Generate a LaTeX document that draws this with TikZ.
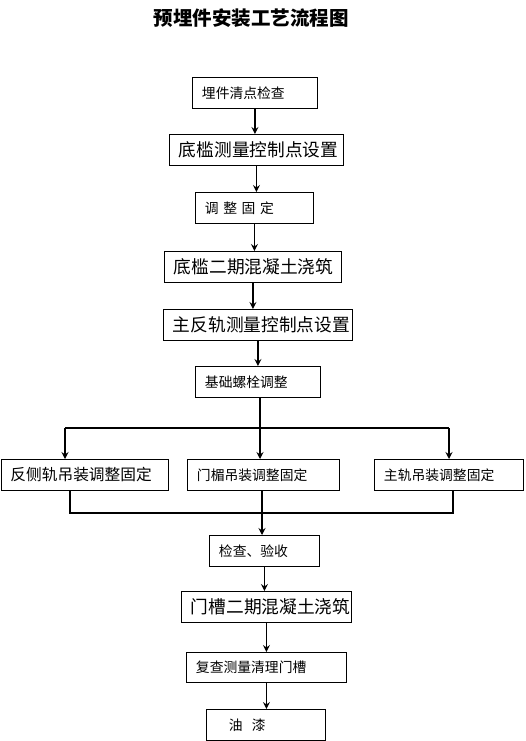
\documentclass[tikz,border=0pt]{standalone}
\usepackage{fontspec}
\setmainfont{Noto Sans CJK SC}
\usepackage{tikz}
\usetikzlibrary{arrows.meta,positioning}

\begin{document}
\begin{tikzpicture}[
    x=1pt, y=-1pt,
    box/.style={draw, line width=0.9pt, anchor=north west, align=left,
                inner xsep=9.5pt, inner ysep=0pt, minimum height=31pt},
    sm/.style={font=\fontsize{13.8}{16}\selectfont},
    md/.style={font=\fontsize{15.7}{18}\selectfont},
    lg/.style={font=\fontsize{17.7}{20}\selectfont},
    link/.style={line width=1.8pt},
    flow/.style={link, -{Stealth[length=7pt,width=7pt,inset=2.5pt]}},
]
\useasboundingbox (0,0) rectangle (526,741);

% title
\node[font=\fontsize{19.5}{22}\bfseries\selectfont] (title) at (251,18) {预埋件安装工艺流程图};

% ---------- main column ----------
\node[box, sm, text width=106pt] (b1) at (192,77)  {埋件清点检查};
\node[box, lg, text width=155pt] (b2) at (169,134) {底槛测量控制点设置};
\node[box, sm, text width=99pt]  (b3) at (195,192) {调 整 固 定};
\node[box, lg, text width=158pt] (b4) at (164,251) {底槛二期混凝土浇筑};
\node[box, lg, text width=170pt] (b5) at (163,309) {主反轨测量控制点设置};
\node[box, sm, text width=106pt] (b6) at (195,366) {基础螺栓调整};

% ---------- three branches ----------
\node[box, md, text width=148pt] (b7) at (0.5,459) {反侧轨吊装调整固定};
\node[box, sm, text width=133pt] (b8) at (187,459) {门楣吊装调整固定};
\node[box, sm, text width=130pt] (b9) at (374,459) {主轨吊装调整固定};

% ---------- after merge ----------
\node[box, sm, text width=91pt]  (b10) at (209,535) {检查、验收};
\node[box, lg, text width=151pt] (b11) at (181,591) {门槽二期混凝土浇筑};
\node[box, sm, text width=141pt, minimum height=30pt] (b12) at (186,652) {复查测量清理门槽};
\node[box, sm, text width=100pt] (b13) at (206,709) {\hspace{13pt}油\hspace{9pt}漆};

% split / join points
\coordinate (split) at (260,428);
\coordinate (sl) at (65,428);
\coordinate (sr) at (449,428);
\coordinate (join) at (262,513);
\coordinate (jl) at (70,513);
\coordinate (jr) at (453,513);

% arrows down the column
\draw[flow] (b1.south) -- (b1.south |- b2.north);
\draw[flow] (b2.south) -- (b2.south |- b3.north);
\draw[flow] (b3.south) -- (b3.south |- b4.north);
\draw[flow] (b4.south) -- (b4.south |- b5.north);
\draw[flow] (b5.south) -- (b5.south |- b6.north);

% split
\draw[link] (b6.south -| split) -- (split);
\draw[link] (sl) -- (sr);
\draw[flow] (sl) -- (sl |- b7.north);
\draw[flow] (split) -- (split |- b8.north);
\draw[flow] (sr) -- (sr |- b9.north);

% join
\draw[link] (b7.south -| jl) -- (jl) -- (jr) -- (b9.south -| jr);
\draw[link] (b8.south -| join) -- (join);
\draw[flow] (join) -- (join |- b10.north);

\draw[flow] (b10.south) -- (b10.south |- b11.north);
\draw[flow] (b11.south) -- (b11.south |- b12.north);
\draw[flow] (b12.south) -- (b12.south |- b13.north);

\end{tikzpicture}
\end{document}
